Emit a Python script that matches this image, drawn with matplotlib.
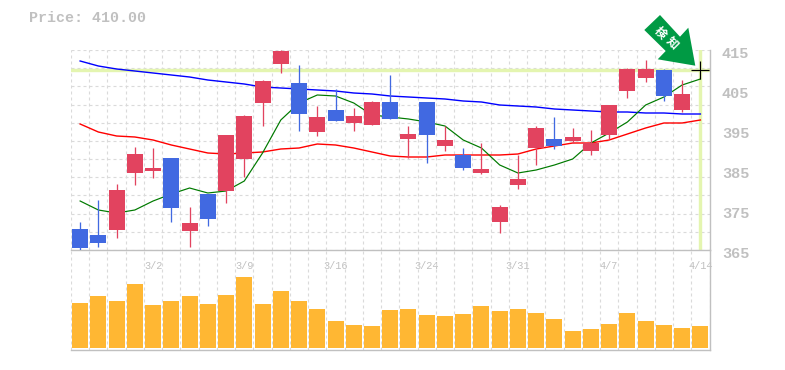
import matplotlib
matplotlib.use("Agg")
import matplotlib.pyplot as plt
from matplotlib.patches import Polygon
from matplotlib.transforms import ScaledTranslation, Affine2D

plt.rcParams['font.family'] = ['Liberation Mono', 'DejaVu Sans Mono']

# Body edges and wick ends, in price units
body_top = [370.25, 368.75, 380, 389, 385.5, 388, 371.75, 379, 393.75, 398.5, 407.25, 414.75,
            406.75, 398.25, 400, 398.5, 402, 402, 394, 402, 392.5, 388.75, 385.25, 375.75,
            382.75, 395.5, 392.75, 393.25, 391.75, 401.25, 410.25, 410.25, 410, 404]
body_bottom = [365.5, 366.75, 370, 384.25, 384.75, 375.5, 369.75, 372.75, 379.75, 387.75, 401.75, 411.5,
               399, 394.5, 397.25, 396.75, 396.25, 397.75, 392.75, 393.75, 391, 385.5, 384.25, 372,
               381.25, 390.5, 391, 392.25, 389.75, 393.75, 404.75, 408, 403.5, 400]
highs = [372, 377.5, 381.5, 390.75, 390.5, 388, 375.75, 379, 393.75, 398.75, 407.5, 415,
         411.25, 401, 405.25, 400.5, 402.25, 408.75, 396, 402, 396, 390.5, 391.75, 376.25,
         388.75, 396, 398.25, 395.5, 395, 401.25, 410.5, 412.5, 410.25, 407.5]
lows = [365, 365.75, 368, 381.25, 383, 372, 365.75, 371, 376.75, 383.25, 396, 409.25,
        394.75, 393.5, 397.25, 394.75, 396.25, 397.75, 388, 386.75, 389.75, 385, 384, 369.25,
        380.25, 386.25, 390.25, 391.75, 388.75, 392.75, 403, 407, 402.25, 399.5]
candle_kind = ['d', 'd', 'u', 'u', 'u', 'd', 'u', 'd', 'u', 'u', 'u', 'u',
               'd', 'u', 'd', 'u', 'u', 'd', 'u', 'd', 'u', 'd', 'u', 'u',
               'u', 'u', 'd', 'u', 'u', 'u', 'u', 'u', 'd', 'u']

ma_short = [377.25, 375, 374.25, 375, 377.25, 379, 380.5, 379.25, 379.75, 382.25, 389.25, 397.5,
            401.75, 403.75, 403.5, 401.75, 398.75, 398.25, 397.75, 397, 396, 392.5, 390.5, 386.25,
            384.25, 385, 386.25, 387.75, 391.75, 394.25, 397, 401.25, 403.25, 406.25, 407.75]
ma_mid = [396.5, 394.5, 393.5, 393.25, 392.5, 391.25, 390.25, 389.25, 389, 389.25, 389.5, 390.25,
          390.5, 391.5, 391.25, 390.5, 389.5, 388.5, 388.25, 388.25, 388.75, 388.75, 388.75, 388.75,
          389, 390.25, 391, 391.75, 391.75, 392.5, 394, 395.5, 396.75, 396.75, 397.5]
ma_long = [412.25, 411, 410.25, 409.75, 409.25, 408.75, 408.25, 407.5, 407, 406.5, 405.75, 405.5,
           405.25, 405, 404.75, 404.25, 404, 403.5, 403.25, 403, 402.75, 402.25, 402, 401.25,
           401, 400.75, 400.25, 400, 399.75, 399.5, 399.5, 399.25, 399.25, 399, 399]
volume = [45.3, 52.3, 47.3, 64.3, 43.3, 47.3, 52.3, 44.3, 53.3, 71.3, 44.3, 57.3,
          47.3, 39.3, 27.3, 23.3, 22.3, 38.3, 39.3, 33.3, 32.3, 34.3, 42.3, 37.3,
          39.3, 35.3, 29.3, 17.3, 19.3, 24.3, 35.3, 27.3, 23.3, 20.3, 22.3]

x_tick_pos = [4, 9, 14, 19, 24, 29, 34]
x_tick_labels = ['3/2', '3/9', '3/16', '3/24', '3/31', '4/7', '4/14']
y_ticks = [415, 405, 395, 385, 375, 365]
current_price = 410.0
title_text = 'Price: 410.00'
arrow_label = '検知'

W, H = 785, 370
RED, BLUE, ORANGE = '#E2435F', '#4169E1', '#FFB733'
GRID, AXIS, TEXT = '#DADADA', '#C0C0C0', '#C0C0C0'
HILITE = '#E4F5B0'
px = 0.72
L, R = 71, 709.5
n = len(volume)
xs = list(range(n))
dash = (0, (2.7, 2.7))

fig = plt.figure(figsize=(W / 100, H / 100), dpi=100, facecolor='white')
ax = fig.add_axes([L / W, 1 - 250 / H, (R - L) / W, 200 / H], facecolor='none')
vx = fig.add_axes([L / W, 1 - 350 / H, (R - L) / W, 100 / H], facecolor='none')

for a in (ax, vx):
    a.set_xlim(-0.5, n - 0.5)
    for s in a.spines.values():
        s.set_visible(False)
    a.spines['right'].set_visible(True)
    a.spines['bottom'].set_visible(True)
    a.spines['right'].set_color(AXIS)
    a.spines['bottom'].set_color(AXIS)
    a.spines['right'].set_linewidth(1.0)
    a.spines['bottom'].set_linewidth(1.0)
    a.xaxis.remove_overlapping_locs = False
    a.yaxis.remove_overlapping_locs = False
    a.set_xticks([i - 0.5 for i in range(n + 1)], minor=True)
    a.grid(True, which='minor', axis='x', color=GRID, lw=0.8, ls=dash, zorder=0)
    a.tick_params(which='both', length=0)
    a.set_axisbelow(True)

# Price panel
ax.set_ylim(365, 415)
ax.set_yticks([365 + 50 * i / 11 for i in range(12)], minor=True)
ax.grid(True, which='minor', axis='y', color=GRID, lw=0.8, ls=dash, zorder=0)
ax.set_xticks(x_tick_pos)
ax.set_xticklabels(x_tick_labels, fontsize=7.4, color=TEXT)
ax.tick_params(axis='x', which='major', pad=8)
ax.yaxis.tick_right()
ax.set_yticks(y_ticks)
ax.set_yticklabels([str(v) for v in y_ticks], fontsize=11, color=TEXT, fontweight='bold')
ax.tick_params(axis='y', which='major', pad=9)
offset = ScaledTranslation(0, -3 / 100, fig.dpi_scale_trans)
for t in ax.get_yticklabels():
    t.set_transform(t.get_transform() + offset)

ax.axhline(current_price, color=HILITE, lw=3.4 * px, zorder=1)
ax.axvline(n - 1, color=HILITE, lw=3.4 * px, zorder=1)
ax.plot(xs, ma_long, color='#0000FF', lw=1.4 * px, zorder=2)
ax.plot(xs, ma_mid, color='#FF0000', lw=1.4 * px, zorder=2)
ax.plot(xs, ma_short, color='#007A00', lw=1.2 * px, zorder=2)

colors = [RED if k == 'u' else BLUE for k in candle_kind]
candle_x = xs[:len(body_top)]
ax.vlines(candle_x, lows, highs, colors=colors, lw=1.3 * px, zorder=3)
ax.bar(candle_x, [t - b for t, b in zip(body_top, body_bottom)], bottom=body_bottom,
       width=16 / 18.24, color=colors, linewidth=0, zorder=4)
ax.plot([n - 1], [current_price], marker='+', color='black', ms=12.5, mew=0.85, zorder=6, clip_on=False)

# Volume panel
vx.set_ylim(-2, 98)
vx.set_yticks([])
vx.set_xticks([])
vx.bar(xs, volume, width=16 / 18.24, color=ORANGE, linewidth=0, zorder=3)

# Signal arrow, drawn in figure pixels
pix = Affine2D().scale(1 / W, -1 / H).translate(0, 1) + fig.transFigure
arrow_shape = [(660, 15), (644.3, 30), (665.7, 51), (657.7, 59.3), (695.3, 65.7), (688.3, 27.7), (680, 36.7)]
fig.add_artist(Polygon(arrow_shape, closed=True, transform=pix, facecolor='#009A44', edgecolor='none', zorder=10))
for ch, (gx, gy) in zip(arrow_label, [(660, 33), (672, 43)]):
    fig.text(gx / W, 1 - gy / H, ch, color='white', fontsize=8.5, fontweight='bold', rotation=-45,
             rotation_mode='anchor', ha='center', va='center', family=['Noto Sans CJK JP', 'DejaVu Sans'], zorder=11)

fig.text(29 / W, 1 - 18 / H, title_text, color=TEXT, fontsize=10.8, fontweight='bold', ha='left', va='center')

fig.savefig('out.png', dpi=100, facecolor='white')
